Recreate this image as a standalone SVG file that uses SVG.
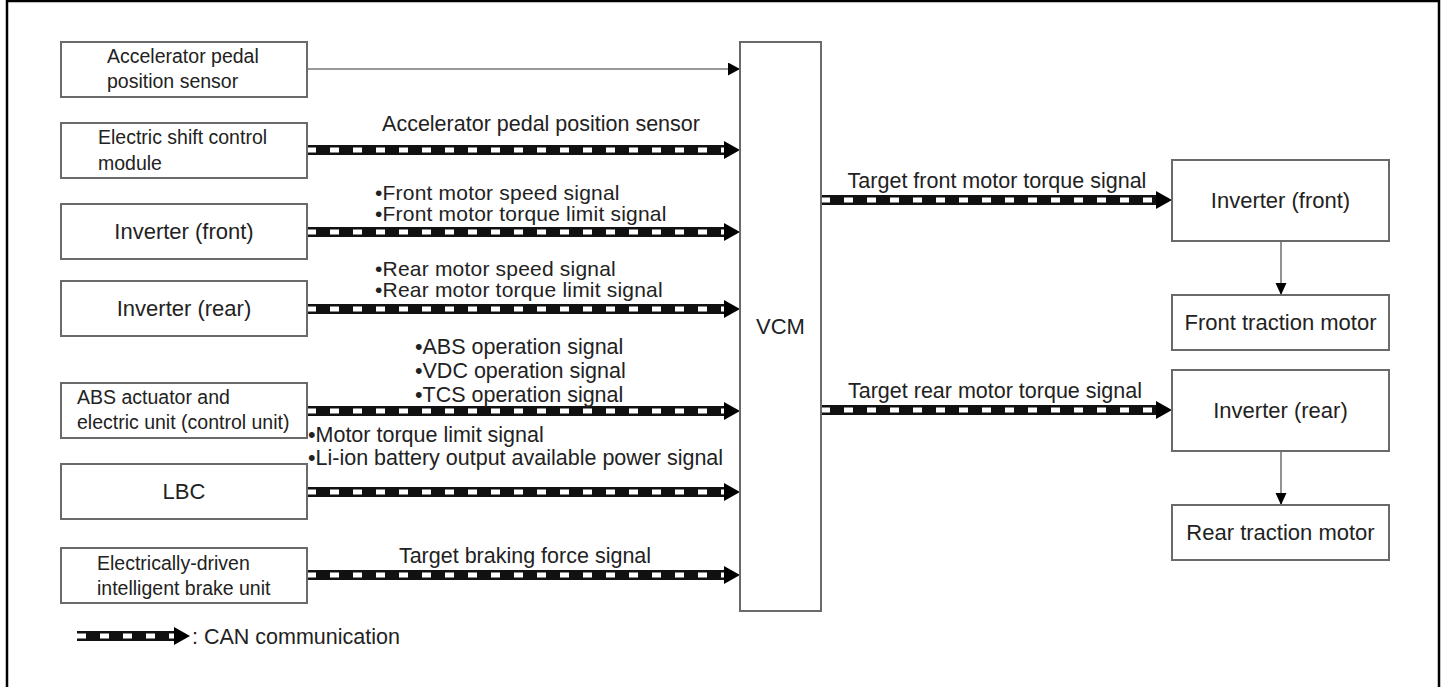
<svg xmlns="http://www.w3.org/2000/svg" width="1449" height="687" viewBox="0 0 1449 687">
<style>
  .box { fill:#fff; stroke:#6a6a6a; stroke-width:2; }
  .t { font-family:"Liberation Sans", Arial, sans-serif; fill:#222; }
  .b22 { font-size:22px; }
  .b19 { font-size:19.5px; }
  .s { font-size:21.5px; }
  .s2 { font-size:21px; letter-spacing:0.2px; }
  .mid { text-anchor:middle; }
  .thin { stroke:#777; stroke-width:1.6; fill:none; }
  .can-o { stroke:#111; stroke-width:10; fill:none; }
  .can-i { stroke:#fff; stroke-width:5; stroke-dasharray:9 14; fill:none; }
</style>
<defs>
  <marker id="canHead" markerUnits="userSpaceOnUse" markerWidth="17" markerHeight="20" refX="0" refY="9" orient="auto">
    <path d="M0,0 L16,9 L0,18 Z" fill="#000"/>
  </marker>
  <marker id="thinHead" markerUnits="userSpaceOnUse" markerWidth="13" markerHeight="14" refX="12" refY="6.5" orient="auto">
    <path d="M0,0 L12,6.5 L0,13 Z" fill="#000"/>
  </marker>
  <marker id="downHead" markerUnits="userSpaceOnUse" markerWidth="13" markerHeight="12" refX="12" refY="5.5" orient="auto">
    <path d="M0,0 L12,5.5 L0,11 Z" fill="#000"/>
  </marker>
</defs>
<rect width="1449" height="687" fill="#fff"/>
<rect x="7" y="1" width="1432" height="720" fill="none" stroke="#000" stroke-width="2.5"/>

<g id="connectors">
  <line class="thin" x1="307" y1="69" x2="740" y2="69" marker-end="url(#thinHead)"/>
  <g id="can-esc"><line class="can-o" x1="307" y1="150" x2="724" y2="150" marker-end="url(#canHead)"/><line class="can-i" x1="307" y1="150" x2="724" y2="150"/></g>
  <g id="can-invf"><line class="can-o" x1="307" y1="232" x2="724" y2="232" marker-end="url(#canHead)"/><line class="can-i" x1="307" y1="232" x2="724" y2="232"/></g>
  <g id="can-invr"><line class="can-o" x1="307" y1="309" x2="724" y2="309" marker-end="url(#canHead)"/><line class="can-i" x1="307" y1="309" x2="724" y2="309"/></g>
  <g id="can-abs"><line class="can-o" x1="307" y1="411" x2="724" y2="411" marker-end="url(#canHead)"/><line class="can-i" x1="307" y1="411" x2="724" y2="411"/></g>
  <g id="can-lbc"><line class="can-o" x1="307" y1="492" x2="724" y2="492" marker-end="url(#canHead)"/><line class="can-i" x1="307" y1="492" x2="724" y2="492"/></g>
  <g id="can-brk"><line class="can-o" x1="307" y1="575" x2="724" y2="575" marker-end="url(#canHead)"/><line class="can-i" x1="307" y1="575" x2="724" y2="575"/></g>
  <g id="can-outf"><line class="can-o" x1="821" y1="200" x2="1156" y2="200" marker-end="url(#canHead)"/><line class="can-i" x1="821" y1="200" x2="1156" y2="200"/></g>
  <g id="can-outr"><line class="can-o" x1="821" y1="410" x2="1156" y2="410" marker-end="url(#canHead)"/><line class="can-i" x1="821" y1="410" x2="1156" y2="410"/></g>
  <line class="thin" x1="1281" y1="241" x2="1281" y2="295" marker-end="url(#downHead)"/>
  <line class="thin" x1="1281" y1="451" x2="1281" y2="505" marker-end="url(#downHead)"/>

  <g id="labels" class="t s">
    <text x="541" y="131" class="mid">Accelerator pedal position sensor</text>
    <text x="375" y="200" class="s2">•Front motor speed signal</text>
    <text x="375" y="221" class="s2">•Front motor torque limit signal</text>
    <text x="375" y="276" class="s2">•Rear motor speed signal</text>
    <text x="375" y="297" class="s2">•Rear motor torque limit signal</text>
    <text x="415" y="354">•ABS operation signal</text>
    <text x="415" y="378">•VDC operation signal</text>
    <text x="415" y="402">•TCS operation signal</text>
    <text x="308" y="442">•Motor torque limit signal</text>
    <text x="308" y="465">•Li-ion battery output available power signal</text>
    <text x="525" y="563" class="mid">Target braking force signal</text>
    <text x="997" y="188" class="mid">Target front motor torque signal</text>
    <text x="995" y="398" class="mid">Target rear motor torque signal</text>
  </g>
</g>

<g id="aps"><rect class="box" x="61" y="42" width="246" height="55"/>
  <text class="t b19" x="107" y="63">Accelerator pedal</text><text class="t b19" x="107" y="88">position sensor</text></g>
<g id="esc"><rect class="box" x="61" y="123" width="246" height="55"/>
  <text class="t b19" x="98" y="144">Electric shift control</text><text class="t b19" x="98" y="170">module</text></g>
<g id="inv-front-l"><rect class="box" x="61" y="204" width="246" height="55"/>
  <text class="t b22 mid" x="184" y="239">Inverter (front)</text></g>
<g id="inv-rear-l"><rect class="box" x="61" y="281" width="246" height="55"/>
  <text class="t b22 mid" x="184" y="316">Inverter (rear)</text></g>
<g id="abs"><rect class="box" x="61" y="383" width="246" height="55"/>
  <text class="t b19" x="77" y="404">ABS actuator and</text><text class="t b19" x="77" y="429">electric unit (control unit)</text></g>
<g id="lbc"><rect class="box" x="61" y="464" width="246" height="55"/>
  <text class="t b22 mid" x="184" y="499">LBC</text></g>
<g id="brake"><rect class="box" x="61" y="548" width="246" height="55"/>
  <text class="t b19" x="97" y="570">Electrically-driven</text><text class="t b19" x="97" y="595">intelligent brake unit</text></g>

<g id="vcm"><rect class="box" x="740" y="42" width="81" height="569"/>
  <text class="t b22 mid" x="780.5" y="334">VCM</text></g>

<g id="inv-front-r"><rect class="box" x="1172" y="160" width="217" height="81"/>
  <text class="t b22 mid" x="1280.5" y="208">Inverter (front)</text></g>
<g id="ftm"><rect class="box" x="1172" y="295" width="217" height="55"/>
  <text class="t b22 mid" x="1280.5" y="330">Front traction motor</text></g>
<g id="inv-rear-r"><rect class="box" x="1172" y="370" width="217" height="81"/>
  <text class="t b22 mid" x="1280.5" y="418">Inverter (rear)</text></g>
<g id="rtm"><rect class="box" x="1172" y="505" width="217" height="55"/>
  <text class="t b22 mid" x="1280.5" y="540">Rear traction motor</text></g>

<g id="legend">
  <line class="can-o" x1="77" y1="636" x2="174" y2="636" marker-end="url(#canHead)"/>
  <line class="can-i" x1="77" y1="636" x2="174" y2="636"/>
  <text class="t s" x="192" y="644">: CAN communication</text>
</g>
</svg>
